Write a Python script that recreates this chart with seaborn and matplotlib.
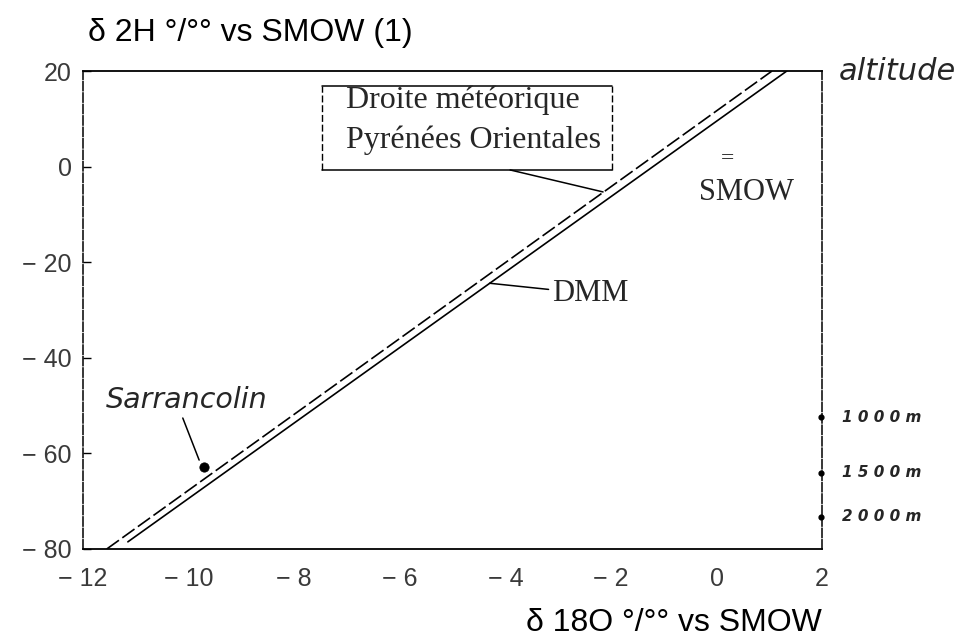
import matplotlib
matplotlib.use("Agg")
import matplotlib.pyplot as plt
import seaborn as sns
import pandas as pd

sns.set_theme(style="white")
plt.rcParams['font.family'] = ['Liberation Sans', 'DejaVu Sans']

# Meteoric water lines (end points in delta 18O / delta 2H, permil vs SMOW)
pyr_x = [-11.55, 1.05]      # Droite météorique Pyrénées Orientales
pyr_y = [-80.0, 20.0]
dmm_x = [-11.15, 1.33]      # DMM
dmm_y = [-78.5, 20.0]

# Sampled spring
site_name = ["Sarrancolin"]
site_x = [-9.7]
site_y = [-62.8]

# Altitude marks on the right-hand axis
alt_labels = ["1000m", "1500m", "2000m"]
alt_y = [-52.4, -64.1, -73.3]

x_ticks = [-12, -10, -8, -6, -4, -2, 0, 2]
y_ticks = [-80, -60, -40, -20, 0, 20]

lines = pd.concat([
    pd.DataFrame({"x": pyr_x, "y": pyr_y, "line": "pyr"}),
    pd.DataFrame({"x": dmm_x, "y": dmm_y, "line": "dmm"}),
])
site = pd.DataFrame({"name": site_name, "x": site_x, "y": site_y})

fig = plt.figure(figsize=(9.65, 6.38), dpi=100)
ax = fig.add_axes([0.086, 0.1395, 0.766, 0.7492])

sns.lineplot(data=lines, x="x", y="y", hue="line", style="line",
             palette={"pyr": "black", "dmm": "black"},
             dashes={"pyr": (9, 2.5), "dmm": ""},
             linewidth=1.2, legend=False, sort=False, estimator=None, ax=ax)
sns.scatterplot(data=site, x="x", y="y", color="black", s=45,
                edgecolor="black", legend=False, ax=ax, zorder=5)


def tick_text(v):
    return f"{v}".replace("-", "\u2212 ")


ax.set_xlim(-12, 2)
ax.set_ylim(-80, 20)
ax.set_xticks(x_ticks)
ax.set_yticks(y_ticks)
ax.set_xticklabels([tick_text(v) for v in x_ticks])
ax.set_yticklabels([tick_text(v) for v in y_ticks])
ax.tick_params(axis="x", bottom=False, labelsize=18, labelcolor="#3a3a3a", pad=7)
ax.tick_params(axis="y", left=True, direction="in", length=6, width=1.0,
               color="black", labelsize=18, labelcolor="#3a3a3a", pad=8)
ax.set_xlabel("")
ax.set_ylabel("")

for side in ("top", "bottom"):
    ax.spines[side].set_color("black")
    ax.spines[side].set_linewidth(1.3)
for side in ("left", "right"):
    ax.spines[side].set_color("black")
    ax.spines[side].set_linewidth(1.1)
    ax.spines[side].set_linestyle((0, (6, 1.5)))

# Axis titles
fig.text(0.091, 0.948, "\u03b4 2H \u00b0/\u00b0\u00b0 vs SMOW (1)", fontsize=23,
         ha="left", va="center", color="black")
ax.text(1.0, -0.155, "\u03b4 18O \u00b0/\u00b0\u00b0 vs SMOW", transform=ax.transAxes,
        fontsize=23, ha="right", va="center", color="black")

# Frame around the regional line caption: solid top/bottom, dashed sides
bx0, bx1, by0, by1 = -7.47, -1.98, -0.71, 16.86
ax.plot([bx0, bx1], [by1, by1], color="black", lw=1.1)
ax.plot([bx0, bx1], [by0, by0], color="black", lw=1.1)
ax.plot([bx0, bx0], [by0, by1], color="black", lw=1.0, ls=(0, (5, 2)))
ax.plot([bx1, bx1], [by0, by1], color="black", lw=1.0, ls=(0, (5, 2)))
ax.text(-7.02, 13.9, "Droite météorique", family="Liberation Serif",
        fontsize=23, ha="left", va="center")
ax.text(-7.02, 5.6, "Pyrénées Orientales", family="Liberation Serif",
        fontsize=23, ha="left", va="center")
ax.plot([-3.91, -2.15], [-0.7, -5.3], color="black", lw=1.1)

# DMM label
ax.annotate("DMM", xy=(-4.3, -24.4), xytext=(-3.12, -26.6),
            family="Liberation Serif", fontsize=22, ha="left", va="center",
            arrowprops=dict(arrowstyle="-", color="black", lw=1.1,
                            shrinkA=0, shrinkB=0))

# SMOW reference
ax.text(0.2, 1.6, "=", family="Liberation Serif", fontsize=17,
        ha="center", va="center")
ax.text(0.56, -5.4, "SMOW", family="Liberation Serif", fontsize=22,
        ha="center", va="center")

# Spring label with its pointer
ax.text(-10.03, -48.8, site_name[0], fontsize=20.5, style="italic",
        family="DejaVu Sans", ha="center", va="center")
ax.plot([-10.11, -9.8], [-52.6, -61.4], color="black", lw=1.1)

# Altitude scale
ax.text(1.022, 1.0, "altitude", transform=ax.transAxes, fontsize=22,
        style="italic", family="DejaVu Sans", ha="left", va="center")
ax.scatter([1.97] * len(alt_y), alt_y, s=12, color="black", clip_on=False,
           zorder=6)
for lab, yv in zip(alt_labels, alt_y):
    ax.text(1.027, yv, " ".join(lab), transform=ax.get_yaxis_transform(),
            fontsize=11, style="italic", weight="bold", family="DejaVu Sans",
            ha="left", va="center")

fig.savefig("out.png", dpi=100, facecolor="white")
